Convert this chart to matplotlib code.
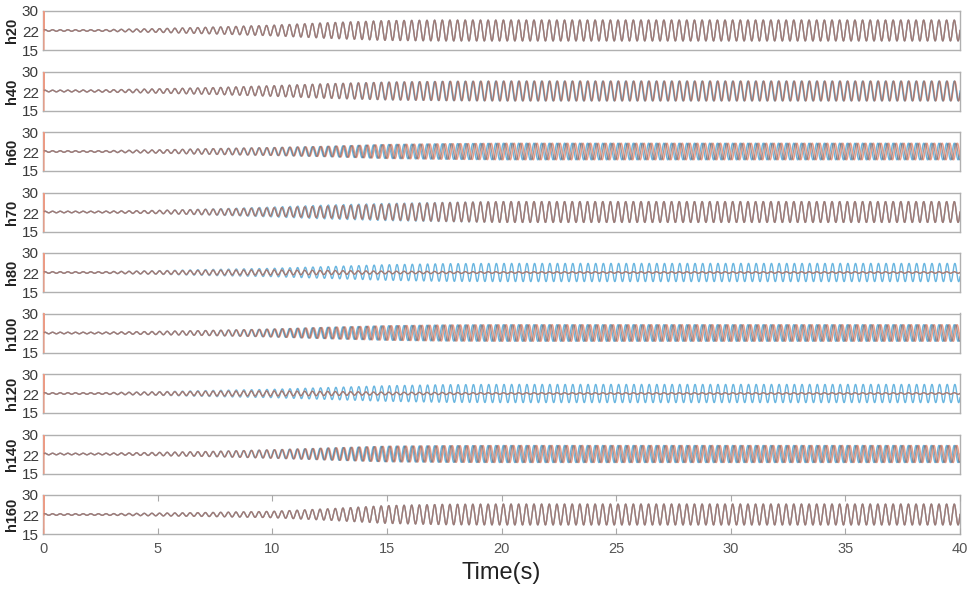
import numpy as np
import matplotlib.pyplot as plt

plt.rcParams['font.family'] = ['Liberation Sans', 'DejaVu Sans']

# panel names (one subplot per height)
panels = ['h20', 'h40', 'h60', 'h70', 'h80', 'h100', 'h120', 'h140', 'h160']

# oscillation: ~15 cycles every 5 s
freq_hz = 3.0
level = 22.5
t_knots = [0, 2.5, 5, 7.5, 10, 12.5, 15, 17.5, 20, 40]

# half peak-to-peak amplitude at t_knots, one row per panel
amp_blue = [
    [0.3, 0.3, 0.7, 1.3, 2.0, 3.0, 3.8, 4.0, 4.0, 4.0],
    [0.3, 0.4, 0.8, 1.3, 2.0, 2.8, 3.4, 3.7, 3.8, 3.8],
    [0.3, 0.3, 0.6, 1.1, 1.5, 2.0, 2.7, 3.0, 3.2, 3.2],
    [0.3, 0.3, 0.6, 1.2, 1.9, 2.7, 3.3, 3.7, 4.0, 4.0],
    [0.3, 0.3, 0.7, 1.2, 1.6, 2.3, 3.0, 3.4, 3.5, 3.5],
    [0.3, 0.3, 0.6, 1.0, 1.5, 2.2, 2.8, 3.1, 3.2, 3.2],
    [0.3, 0.3, 0.7, 1.2, 1.6, 2.3, 3.0, 3.4, 3.5, 3.5],
    [0.3, 0.3, 0.6, 1.0, 1.6, 2.3, 3.0, 3.2, 3.3, 3.3],
    [0.3, 0.3, 0.5, 0.8, 1.2, 2.2, 3.4, 3.9, 4.0, 4.0],
]
amp_orange = [
    [0.3, 0.3, 0.7, 1.3, 2.0, 3.0, 3.8, 4.0, 4.0, 4.0],
    [0.3, 0.4, 0.8, 1.3, 2.0, 2.8, 3.4, 3.7, 3.8, 3.8],
    [0.3, 0.3, 0.6, 1.1, 1.5, 2.0, 2.7, 3.0, 3.2, 3.2],
    [0.3, 0.3, 0.6, 1.1, 1.6, 2.3, 3.0, 3.6, 4.0, 4.0],
    [0.3, 0.3, 0.6, 0.9, 1.0, 0.8, 0.5, 0.4, 0.3, 0.3],
    [0.3, 0.3, 0.6, 1.0, 1.5, 2.2, 2.8, 3.1, 3.2, 3.2],
    [0.3, 0.3, 0.6, 0.9, 1.0, 0.8, 0.5, 0.4, 0.3, 0.3],
    [0.3, 0.3, 0.6, 1.0, 1.6, 2.3, 3.0, 3.2, 3.3, 3.3],
    [0.3, 0.3, 0.5, 0.8, 1.2, 2.2, 3.4, 3.9, 4.0, 4.0],
]
amp_gray = [
    [0.3, 0.3, 0.7, 1.3, 2.0, 3.0, 3.8, 4.0, 4.0, 4.0],
    [0.3, 0.4, 0.8, 1.3, 2.0, 2.8, 3.4, 3.7, 3.8, 3.8],
    [0.3, 0.3, 0.6, 1.1, 1.5, 2.0, 2.7, 3.0, 3.2, 3.2],
    [0.3, 0.3, 0.6, 1.1, 1.6, 2.3, 3.0, 3.6, 4.0, 4.0],
    [0.3, 0.3, 0.6, 0.9, 1.0, 0.8, 0.5, 0.4, 0.3, 0.3],
    [0.3, 0.3, 0.6, 1.0, 1.5, 2.2, 2.8, 3.1, 3.2, 3.2],
    [0.3, 0.3, 0.6, 0.9, 1.0, 0.8, 0.5, 0.4, 0.3, 0.3],
    [0.3, 0.3, 0.6, 1.0, 1.6, 2.3, 3.0, 3.2, 3.3, 3.3],
    [0.3, 0.3, 0.5, 0.8, 1.2, 2.2, 3.4, 3.9, 4.0, 4.0],
]

# phase lag (rad) of each line at t_knots
lag_blue = [
    [0, 0, 0, 0, 0, 0, 0, 0, 0, 0],
    [0, 0, 0, 0, 0, 0, 0, 0, 0, 0],
    [0, 0, 0, 0, 0, 0, 0, 0, 0, 0],
    [0, 0, 0, 0.3, 0.6, 0.6, 0.4, 0.2, 0.1, 0.1],
    [0, 0, 0, 0.2, 0.4, 0.5, 0.5, 0.5, 0.5, 0.5],
    [0, 0, 0, 0, 0, 0, 0, 0, 0, 0],
    [0, 0, 0, 0.2, 0.4, 0.5, 0.5, 0.5, 0.5, 0.5],
    [0, 0, 0, 0, 0, 0, 0, 0, 0, 0],
    [0, 0, 0, 0, 0, 0, 0, 0, 0, 0],
]
lag_orange = [
    [0, 0, 0, 0, 0, 0, 0, 0, 0, 0],
    [0, 0, 0, 0, 0, 0.2, 0.4, 0.5, 0.5, 0.5],
    [0, 0, 0, 0.3, 0.6, 1.2, 2.0, 2.5, 2.6, 2.6],
    [0, 0, 0, 0, 0, 0, 0, 0, 0, 0],
    [0, 0, 0, 0, 0, 0, 0, 0, 0, 0],
    [0, 0, 0, 0.3, 0.8, 1.5, 2.2, 2.4, 2.4, 2.4],
    [0, 0, 0, 0, 0, 0, 0, 0, 0, 0],
    [0, 0, 0, 0.2, 0.5, 1.0, 1.6, 2.0, 2.2, 2.2],
    [0, 0, 0, 0, 0, 0, 0, 0, 0, 0],
]
lag_gray = [
    [0, 0, 0, 0, 0, 0, 0, 0, 0, 0],
    [0, 0, 0, 0, 0, 0.1, 0.2, 0.25, 0.25, 0.25],
    [0, 0, 0, 0.15, 0.3, 0.6, 1.0, 1.25, 1.3, 1.3],
    [0, 0, 0, 0, 0, 0, 0, 0, 0, 0],
    [0, 0, 0, 0, 0, 0, 0, 0, 0, 0],
    [0, 0, 0, 0.15, 0.4, 0.75, 1.1, 1.2, 1.2, 1.2],
    [0, 0, 0, 0, 0, 0, 0, 0, 0, 0],
    [0, 0, 0, 0.1, 0.25, 0.5, 0.8, 1.0, 1.1, 1.1],
    [0, 0, 0, 0, 0, 0, 0, 0, 0, 0],
]

# start-up spike of the orange trace just after t = 0
spike_t = [0.04, 0.04, 0.06]
spike_y = [15.0, 30.0, 22.3]

x_ticks = [0, 5, 10, 15, 20, 25, 30, 35, 40]
y_ticks = [15, 22, 30]

t = np.linspace(0.06, 40, 8001)


def trace(amp, lag):
    a = np.interp(t, t_knots, amp)
    p = np.interp(t, t_knots, lag)
    return level + a * np.sin(2 * np.pi * freq_hz * t - p)


W, H = 974, 590
fig = plt.figure(figsize=(W / 100, H / 100), dpi=100)
left, right = 43, 960
top0, pitch, height = 11, 60.5, 39

for i, name in enumerate(panels):
    top = top0 + i * pitch
    ax = fig.add_axes([left / W, 1 - (top + height) / H, (right - left) / W, height / H])

    yb = trace(amp_blue[i], lag_blue[i])
    yo = trace(amp_orange[i], lag_orange[i])
    yg = trace(amp_gray[i], lag_gray[i])

    ax.plot(t, yb, color='#6ab6e0', lw=1.0)
    ax.plot(np.concatenate([spike_t, t]), np.concatenate([spike_y, yo]),
            color='#eb9c86', lw=1.0)
    ax.plot(t, yg, color='#776d72', lw=0.9, alpha=0.7)

    ax.set_xlim(0, 40)
    ax.set_ylim(15, 30)
    ax.set_yticks(y_ticks)
    ax.tick_params(axis='y', length=0, labelsize=11, labelcolor='#3a3a3a', pad=3)
    ax.set_ylabel(name, fontsize=10.5, fontweight='bold', color='#222222', labelpad=2)
    for s in ax.spines.values():
        s.set_color('#b0b0b0')
        s.set_linewidth(1.0)
        s.set_zorder(0)

    if i == len(panels) - 1:
        ax.set_xticks(x_ticks)
        ax.tick_params(axis='x', direction='in', length=4, color='#a8a8a8',
                       top=True, labelsize=10.5, labelcolor='#555555', pad=6)
        ax.set_xlabel('Time(s)', fontsize=17, color='#222222', labelpad=4)
    else:
        ax.set_xticks([])

fig.savefig('out.png', dpi=100)
